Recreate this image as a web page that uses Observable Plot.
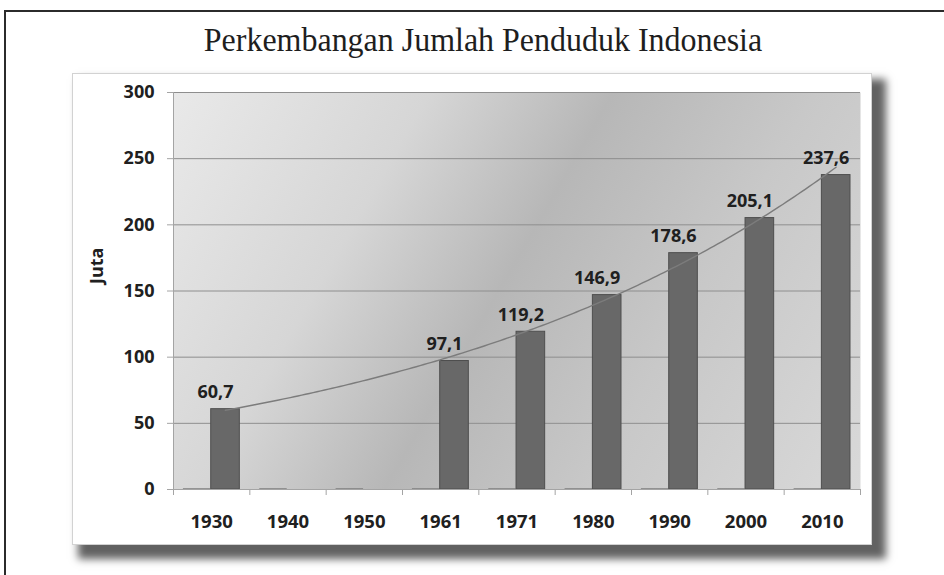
<!DOCTYPE html>
<html>
<head>
<meta charset="utf-8">
<script src="https://cdn.jsdelivr.net/npm/d3@7"></script>
<script src="https://cdn.jsdelivr.net/npm/@observablehq/plot@0.6"></script>
<style>
  html, body { margin: 0; padding: 0; width: 944px; height: 575px; overflow: hidden; background: #fff; }
  #border { position: absolute; left: 4px; top: 10px; width: 1000px; height: 1000px; border: 2px solid #2b2b2b; box-sizing: border-box; }
  #title { position: absolute; left: 0; width: 966px; top: 21px; text-align: center; font-family: "Liberation Serif", "Times New Roman", serif; font-size: 34px; color: #1e1e1e; white-space: nowrap; transform: scaleX(0.94); transform-origin: 483px 0; }
  #panel { position: absolute; left: 72px; top: 73px; width: 800px; height: 472px; background: #fff;
           box-shadow: inset 0 0 0 1px #d2d2d2, 10px 10px 8px 4px rgba(0,0,0,0.62); }
  #panel svg { position: absolute; left: 0; top: 0; }
</style>
</head>
<body>
<div id="border"></div>
<div id="title"></div>
<div id="panel"></div>
<script>
// ---- data ----
const chartTitle = "Perkembangan Jumlah Penduduk Indonesia";
const yLabel = "Juta";
const years = ["1930", "1940", "1950", "1961", "1971", "1980", "1990", "2000", "2010"];
const population = [60.7, null, null, 97.1, 119.2, 146.9, 178.6, 205.1, 237.6];
const emptySeries = [0, 0, 0, 0, 0, 0, 0, 0, 0]; // first (empty) series, zero height
const yTicks = [0, 50, 100, 150, 200, 250, 300];

document.getElementById("title").textContent = chartTitle;

const rows = years.map((year, i) => ({year, idx: i + 1, value: population[i], base: emptySeries[i]}));
const bars = rows.filter(d => d.value != null);

// exponential trend line (least squares on ln values), as in the source spreadsheet
const n = bars.length;
const mx = d3.mean(bars, d => d.idx);
const my = d3.mean(bars, d => Math.log(d.value));
const b = d3.sum(bars, d => (d.idx - mx) * (Math.log(d.value) - my)) / d3.sum(bars, d => (d.idx - mx) ** 2);
const a = my - b * mx;
const trend = d3.range(bars[0].idx, bars[n - 1].idx + 1e-9, 0.05).map(t => ({t, v: Math.exp(a + b * t)}));

const fmt = v => v.toFixed(1).replace(".", ",");
const boundaries = d3.range(0, years.length + 1).map(i => i + 0.5);
const labelFont = "'Open Sans', 'DejaVu Sans', sans-serif";

const chart = Plot.plot({
  width: 800,
  height: 472,
  marginLeft: 101,
  marginRight: 12,
  marginTop: 19,
  marginBottom: 56,
  x: {type: "linear", domain: [0.5, years.length + 0.5]},
  y: {domain: [0, 300]},
  style: {background: "transparent", fontFamily: labelFont, overflow: "visible"},
  marks: [
    Plot.frame({fill: "url(#plotBg)", stroke: null}),
    Plot.ruleY(yTicks.filter(d => d > 0), {stroke: "#8e8e8e", strokeWidth: 1}),
    Plot.ruleY(rows, {x1: d => d.idx - 0.37, x2: d => d.idx - 0.01, y: "base", stroke: "#7e7e7e", strokeWidth: 1.5, dy: -0.5}),
    Plot.rectY(bars, {x1: d => d.idx - 0.006, x2: d => d.idx + 0.369, y: "value", fill: "#686868", stroke: "#4e4e4e", strokeWidth: 1}),
    Plot.line(trend, {x: d => d.t + 0.18, y: "v", stroke: "#7c7c7c", strokeWidth: 1.4}),
    Plot.text(bars, {x: d => d.idx + 0.05, y: "value", text: d => fmt(d.value), dy: -11, lineAnchor: "bottom",
                     fontSize: 18, fontWeight: 700, fill: "#202020"}),
    Plot.ruleY([0], {stroke: "#a4a4a4"}),
    Plot.ruleX([0.5], {stroke: "#a4a4a4"}),
    Plot.axisY({ticks: yTicks, tickSize: 6, tickPadding: 13, label: null, stroke: "#a4a4a4", fill: "#202020",
                fontSize: 18, fontWeight: 700}),
    Plot.axisX({ticks: rows.map(d => d.idx), tickFormat: i => years[i - 1], tickSize: 0, tickPadding: 25, label: null,
                fill: "#202020", fontSize: 18.5, fontWeight: 700}),
    Plot.axisX({ticks: boundaries, tickFormat: () => "", tickSize: 6, label: null, stroke: "#a4a4a4"}),
    Plot.text([yLabel], {frameAnchor: "left", dx: -76, dy: -7, rotate: -90, fontSize: 18, fontWeight: 700, fill: "#202020"})
  ]
});

// gradient for the plot-area background
const svg = d3.select(chart);
const grad = svg.insert("defs", ":first-child").append("linearGradient")
  .attr("id", "plotBg").attr("gradientUnits", "userSpaceOnUse")
  .attr("x1", 101).attr("y1", 19).attr("x2", 788).attr("y2", 416);
[[0, "#e9e9e9"], [0.28, "#d6d6d6"], [0.48, "#b7b7b7"], [0.7, "#c8c8c8"], [1, "#d9d9d9"]]
  .forEach(([o, c]) => grad.append("stop").attr("offset", o).attr("stop-color", c));

document.getElementById("panel").append(chart);
</script>
</body>
</html>
